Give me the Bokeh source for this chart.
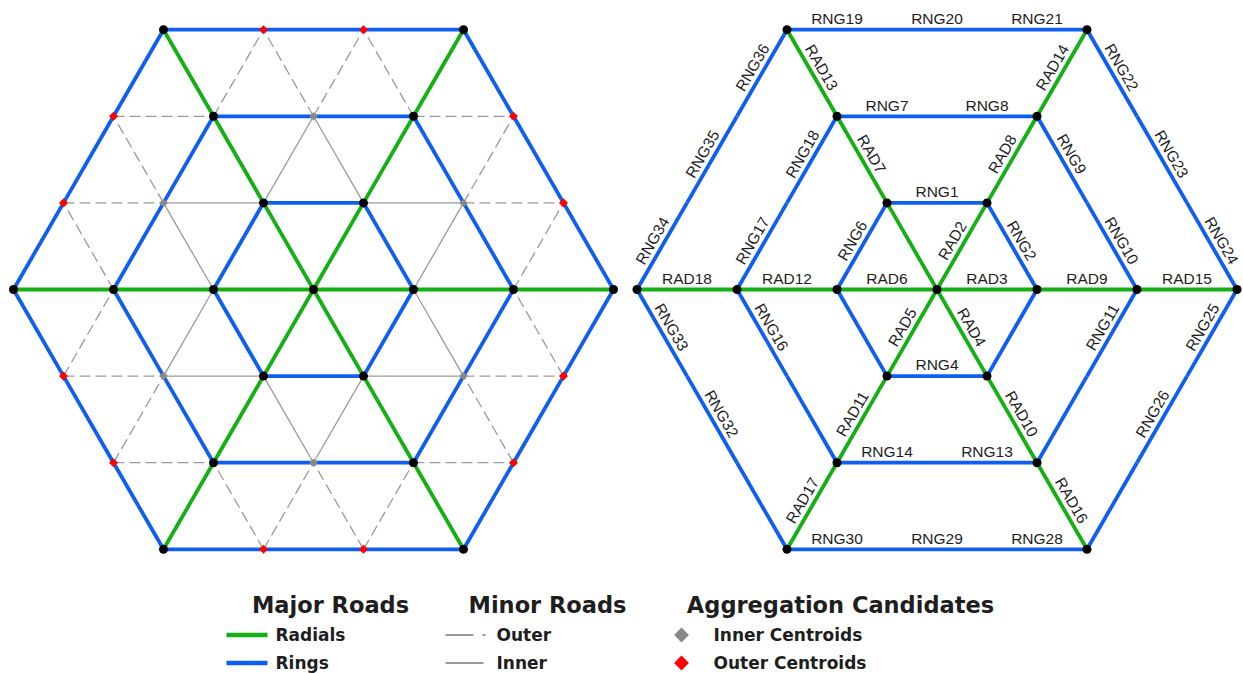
import math
from bokeh.plotting import figure
from bokeh.models import Range1d
from bokeh.core.properties import value
from bokeh.embed import file_html
from bokeh.resources import INLINE

# ------------------------------------------------------------------ data
HEX_RADIUS = 3                 # rings of the triangular lattice network
RING_RADII = [1, 2, 3]         # major ring roads
RIGHT_SHIFT = 6.235            # labelled copy of the network, lattice units

# road labels of the right network: name, segment start (X, row), segment end (X, row)
LABEL_NAMES = ["RNG1", "RNG2", "RNG4", "RNG6", "RNG7", "RNG8", "RNG9", "RNG10",
               "RNG11", "RNG13", "RNG14", "RNG16", "RNG17", "RNG18", "RNG19",
               "RNG20", "RNG21", "RNG22", "RNG23", "RNG24", "RNG25", "RNG26",
               "RNG28", "RNG29", "RNG30", "RNG32", "RNG33", "RNG34", "RNG35",
               "RNG36",
               "RAD2", "RAD3", "RAD4", "RAD5", "RAD6", "RAD7", "RAD8", "RAD9",
               "RAD10", "RAD11", "RAD12", "RAD13", "RAD14", "RAD15", "RAD16",
               "RAD17", "RAD18"]
LABEL_FROM = [(-0.5, 1), (0.5, 1), (-0.5, -1), (-1, 0), (-1, 2), (0, 2), (1, 2), (1.5, 1),
              (2, 0), (0, -2), (-1, -2), (-2, 0), (-2, 0), (-1.5, 1), (-1.5, 3),
              (-0.5, 3), (0.5, 3), (1.5, 3), (2, 2), (2.5, 1), (3, 0), (2.5, -1),
              (0.5, -3), (-0.5, -3), (-1.5, -3), (-2.5, -1), (-3, 0), (-3, 0), (-2.5, 1),
              (-2, 2),
              (0, 0), (0, 0), (0, 0), (0, 0), (0, 0), (-0.5, 1), (0.5, 1), (1, 0),
              (0.5, -1), (-0.5, -1), (-1, 0), (-1, 2), (1, 2), (2, 0), (1, -2),
              (-1, -2), (-2, 0)]
LABEL_TO = [(0.5, 1), (1, 0), (0.5, -1), (-0.5, 1), (0, 2), (1, 2), (1.5, 1), (2, 0),
            (1.5, -1), (1, -2), (0, -2), (-1.5, -1), (-1.5, 1), (-1, 2), (-0.5, 3),
            (0.5, 3), (1.5, 3), (2, 2), (2.5, 1), (3, 0), (2.5, -1), (2, -2),
            (1.5, -3), (0.5, -3), (-0.5, -3), (-2, -2), (-2.5, -1), (-2.5, 1), (-2, 2),
            (-1.5, 3),
            (0.5, 1), (1, 0), (0.5, -1), (-0.5, -1), (-1, 0), (-1, 2), (1, 2), (2, 0),
            (1, -2), (-1, -2), (-2, 0), (-1.5, 3), (1.5, 3), (3, 0), (1.5, -3),
            (-1.5, -3), (-3, 0)]

LEGEND_HEADERS = ["Major Roads", "Minor Roads", "Aggregation Candidates"]
LEGEND_MAJOR = ["Radials", "Rings"]
LEGEND_MINOR = ["Outer", "Inner"]
LEGEND_CANDIDATES = ["Inner Centroids", "Outer Centroids"]

# ------------------------------------------------------------------ styles
BLUE = "#0f5ef2"
GREEN = "#12b012"
MINOR = "#9a9a9a"
GRAYNODE = "#888888"
RED = "#ff0000"
TXT = "#1e1e1e"
S3 = math.sqrt(3) / 2

W, H = 1243, 673
X0, Y1, PX = -3.13, 2.89, 100.0


def d(sx, sy):
    """page pixel -> data coordinates"""
    return sx / PX + X0, Y1 - sy / PX


# ------------------------------------------------------------------ lattice
def dist(q, r):
    return max(abs(q), abs(r), abs(q + r))


def on_axis(q, r):
    return r == 0 or q == 0 or q + r == 0


def pos(q, r, shift=0.0):
    return q + r / 2 + shift, r * S3


nodes = [(q, r) for q in range(-HEX_RADIUS, HEX_RADIUS + 1)
         for r in range(-HEX_RADIUS, HEX_RADIUS + 1) if dist(q, r) <= HEX_RADIUS]
node_set = set(nodes)

radial, ring, minor_out, minor_in = [], [], [], []
for (q, r) in nodes:
    for dq, dr in [(1, 0), (0, 1), (-1, 1)]:
        b = (q + dq, r + dr)
        if b not in node_set:
            continue
        a = (q, r)
        is_rad = ((dq, dr) == (1, 0) and r == 0) or ((dq, dr) == (0, 1) and q == 0) or \
                 ((dq, dr) == (-1, 1) and q + r == 0)
        if is_rad:
            radial.append((a, b))
        elif dist(*a) == dist(*b) and dist(*a) in RING_RADII:
            ring.append((a, b))
        elif max(dist(*a), dist(*b)) == HEX_RADIUS:
            minor_out.append((a, b))
        else:
            minor_in.append((a, b))


def segs(edges, shift=0.0):
    xs, ys = [], []
    for a, b in edges:
        pa, pb = pos(*a, shift), pos(*b, shift)
        xs.append([pa[0], pb[0]])
        ys.append([pa[1], pb[1]])
    return xs, ys


p = figure(width=W, height=H, output_backend="svg", toolbar_location=None,
           x_axis_type=None, y_axis_type=None,
           x_range=Range1d(X0, X0 + W / PX), y_range=Range1d(Y1 - H / PX, Y1),
           min_border=0, min_border_left=0, min_border_right=0,
           min_border_top=0, min_border_bottom=0)
p.outline_line_color = None
p.grid.visible = False
p.background_fill_color = "white"

# left network: minor roads
xs, ys = segs(minor_out)
p.multi_line(xs, ys, line_color=MINOR, line_width=1.3, line_dash="11 5")
xs, ys = segs(minor_in)
p.multi_line(xs, ys, line_color=MINOR, line_width=1.3)

for shift in (0.0, RIGHT_SHIFT):
    xs, ys = segs(ring, shift)
    p.multi_line(xs, ys, line_color=BLUE, line_width=3.8)
    xs, ys = segs(radial, shift)
    p.multi_line(xs, ys, line_color=GREEN, line_width=3.8)

# nodes
ax_nodes = [n for n in nodes if on_axis(*n)]
inner_c = [n for n in nodes if not on_axis(*n) and dist(*n) < HEX_RADIUS]
outer_c = [n for n in nodes if not on_axis(*n) and dist(*n) == HEX_RADIUS]

pts = [pos(*n) for n in inner_c]
p.scatter([a for a, b in pts], [b for a, b in pts], marker="square", angle=math.pi / 4,
          size=6, fill_color=GRAYNODE, line_color=None)
pts = [pos(*n) for n in outer_c]
p.scatter([a for a, b in pts], [b for a, b in pts], marker="square", angle=math.pi / 4,
          size=6.4, fill_color=RED, line_color=None)
for shift in (0.0, RIGHT_SHIFT):
    pts = [pos(*n, shift) for n in ax_nodes]
    p.scatter([a for a, b in pts], [b for a, b in pts], marker="circle",
              size=9, fill_color="black", line_color=None)

# labels of the right network
lx, ly, la = [], [], []
GAP = 0.112
for (X1, J1), (X2, J2) in zip(LABEL_FROM, LABEL_TO):
    x1, y1 = X1 + RIGHT_SHIFT, J1 * S3
    x2, y2 = X2 + RIGHT_SHIFT, J2 * S3
    dx, dy = x2 - x1, y2 - y1
    if dx < 0:
        dx, dy = -dx, -dy
    th = math.atan2(dy, dx)
    mx, my = (x1 + x2) / 2, (y1 + y2) / 2
    lx.append(mx - math.sin(th) * GAP)
    ly.append(my + math.cos(th) * GAP)
    la.append(th)
p.text(lx, ly, text=LABEL_NAMES, angle=la, text_align="center",
       text_baseline="middle", text_font=value("Liberation Sans"),
       text_font_size="15.5px", text_color=TXT)

# ------------------------------------------------------------------ legend
HFONT = value("DejaVu Sans")
hx = [330, 547, 840]
for t, sx in zip(LEGEND_HEADERS, hx):
    x, y = d(sx, 604)
    p.text([x], [y], text=[t], text_align="center", text_baseline="middle",
           text_font=HFONT, text_font_style="bold", text_font_size="22.5px",
           text_color=TXT)

rows = [634.5, 662.5]
for col, (lab, sy) in enumerate(zip(LEGEND_MAJOR, rows)):
    xa, ya = d(226, sy)
    xb, _ = d(267, sy)
    p.line([xa, xb], [ya, ya], line_color=[GREEN, BLUE][col], line_width=4.5)
    x, y = d(275, sy)
    p.text([x], [y], text=[lab], text_baseline="middle", text_font=HFONT,
           text_font_style="bold", text_font_size="17px", text_color=TXT)

for i, (lab, sy) in enumerate(zip(LEGEND_MINOR, rows)):
    xa, ya = d(445, sy)
    xb, _ = d(485 if i == 0 else 483, sy)
    if i == 0:
        p.line([xa, xb], [ya, ya], line_color="#777777", line_width=1.3, line_dash="28 9")
    else:
        p.line([xa, xb], [ya, ya], line_color="#777777", line_width=1.3)
    x, y = d(496, sy)
    p.text([x], [y], text=[lab], text_baseline="middle", text_font=HFONT,
           text_font_style="bold", text_font_size="17px", text_color=TXT)

for i, (lab, sy) in enumerate(zip(LEGEND_CANDIDATES, rows)):
    xm, ym = d(681, sy)
    p.scatter([xm], [ym], marker="square", angle=math.pi / 4, size=10.5,
              fill_color=[GRAYNODE, RED][i], line_color=None)
    x, y = d(713, sy)
    p.text([x], [y], text=[lab], text_baseline="middle", text_font=HFONT,
           text_font_style="bold", text_font_size="17px", text_color=TXT)

open("out.html", "w").write(file_html(p, INLINE))
